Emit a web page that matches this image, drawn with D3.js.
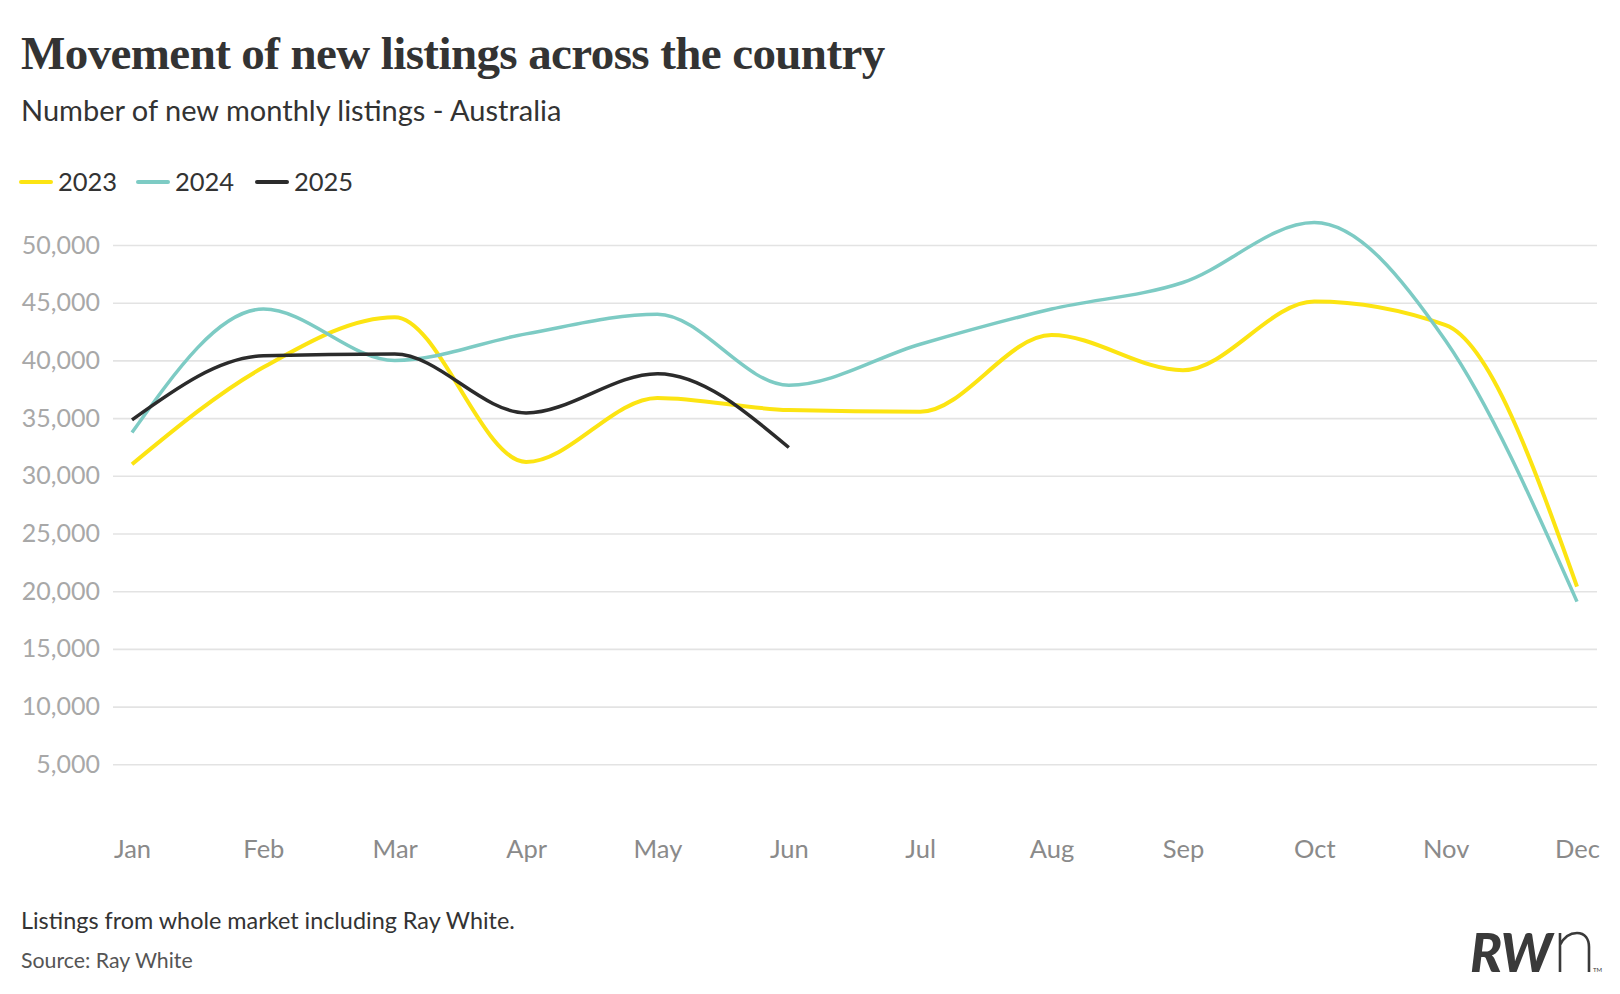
<!DOCTYPE html>
<html>
<head>
<meta charset="utf-8">
<script src="https://cdn.jsdelivr.net/npm/d3@7"></script>
<style>
  body { margin: 0; background: #fff; }
  svg { display: block; }
</style>
</head>
<body>
<div id="chart"></div>
<script>
// data
var months = ["Jan", "Feb", "Mar", "Apr", "May", "Jun", "Jul", "Aug", "Sep", "Oct", "Nov", "Dec"]
var years = ["2023", "2024", "2025"]
var listings_2023 = [31000, 39400, 43750, 31200, 36750, 35700, 35550, 42200, 39150, 45100, 43050, 20400]
var listings_2024 = [33750, 44450, 40000, 42300, 44000, 37850, 41400, 44450, 46750, 51950, 41700, 19100]
var listings_2025 = [34850, 40400, 40550, 35450, 38850, 32450]
var y_ticks = [5000, 10000, 15000, 20000, 25000, 30000, 35000, 40000, 45000, 50000]

var colors = { "2023": "#fce412", "2024": "#7dcbc4", "2025": "#2b2b2b" }
var series = [
    { "year": "2023", "values": listings_2023 },
    { "year": "2024", "values": listings_2024 },
    { "year": "2025", "values": listings_2025 }
]

var width = 1620, height = 994

var svg = d3.select("#chart")
    .append("svg")
    .attr("width", width)
    .attr("height", height)

// title + subtitle
svg.append("text")
    .attr("x", 21)
    .attr("y", 69)
    .attr("font-family", "'Liberation Serif', serif")
    .attr("font-weight", "bold")
    .attr("font-size", 47)
    .attr("letter-spacing", -0.6)
    .attr("fill", "#333")
    .text("Movement of new listings across the country")

svg.append("text")
    .attr("x", 21)
    .attr("y", 121)
    .attr("font-family", "Lato, sans-serif")
    .attr("font-size", 29)
    .attr("fill", "#333")
    .text("Number of new monthly listings - Australia")

// legend
var legend_x = [21, 138, 257]
var legend = svg.selectAll(".legend")
    .data(years)
    .enter()
    .append("g")
    .attr("class", "legend")
    .attr("transform", function (d, i) { return `translate(${legend_x[i]}, 182)` })

legend.append("line")
    .attr("x1", 0).attr("x2", 30)
    .attr("y1", 0).attr("y2", 0)
    .attr("stroke", function (d) { return colors[d] })
    .attr("stroke-width", 4)
    .attr("stroke-linecap", "round")

legend.append("text")
    .attr("x", 37)
    .attr("y", 9)
    .attr("font-family", "Lato, sans-serif")
    .attr("font-size", 25.5)
    .attr("fill", "#333")
    .text(function (d) { return d })

// scales
var x = d3.scalePoint()
    .domain(months)
    .range([132, 1577])

var y = d3.scaleLinear()
    .domain([0, 50000])
    .range([822, 245])

// gridlines + y labels
var y_axis = svg.append("g")
    .attr("transform", "translate(113, 0)")
    .call(d3.axisLeft(y).tickValues(y_ticks).tickFormat(d3.format(",")).tickSize(-1484).tickPadding(13))

y_axis.select(".domain").remove()
y_axis.selectAll(".tick line")
    .attr("stroke", "#e3e3e3")
    .attr("stroke-width", 1.6)
y_axis.selectAll(".tick text")
    .attr("font-family", "Lato, sans-serif")
    .attr("font-size", 25)
    .attr("fill", "#a8a8a8")

// x labels
var x_axis = svg.append("g")
    .attr("transform", "translate(0, 840)")
    .call(d3.axisBottom(x).tickSize(0).tickPadding(0))

x_axis.select(".domain").remove()
x_axis.selectAll(".tick text")
    .attr("dy", "0.71em")
    .attr("font-family", "Lato, sans-serif")
    .attr("font-size", 25.5)
    .attr("fill", "#8a8a8a")

// lines
var line = d3.line()
    .curve(d3.curveMonotoneX)
    .x(function (d, i) { return x(months[i]) })
    .y(function (d) { return y(d) })

svg.append("g")
    .selectAll("path")
    .data(series)
    .enter()
    .append("path")
    .attr("d", function (d) { return line(d.values) })
    .attr("fill", "none")
    .attr("stroke", function (d) { return colors[d.year] })
    .attr("stroke-width", function (d) { return d.year == "2023" ? 4 : 3.5 })
    .attr("stroke-linejoin", "round")

// footer
svg.append("text")
    .attr("x", 21)
    .attr("y", 929)
    .attr("font-family", "Lato, sans-serif")
    .attr("font-size", 23.4)
    .attr("fill", "#333")
    .text("Listings from whole market including Ray White.")

svg.append("text")
    .attr("x", 21)
    .attr("y", 968)
    .attr("font-family", "Lato, sans-serif")
    .attr("font-size", 21.3)
    .attr("fill", "#555")
    .text("Source: Ray White")

// logo
var logo = svg.append("g").attr("fill", "#3a3a3a")
logo.append("text")
    .attr("x", 1470)
    .attr("y", 972)
    .attr("font-family", "Lato, sans-serif")
    .attr("font-weight", 900)
    .attr("font-style", "italic")
    .attr("font-size", 53)
    .attr("letter-spacing", -1)
    .text("RW")
logo.append("path")
    .attr("d", "M1560,972 V933 M1560,945 C1564,937 1570,933 1577,933 C1585,933 1589,939 1589,947 V972")
    .attr("fill", "none")
    .attr("stroke", "#3a3a3a")
    .attr("stroke-width", 2.6)
logo.append("text")
    .attr("x", 1593)
    .attr("y", 972)
    .attr("font-family", "Lato, sans-serif")
    .attr("font-size", 6)
    .text("TM")
</script>
</body>
</html>
